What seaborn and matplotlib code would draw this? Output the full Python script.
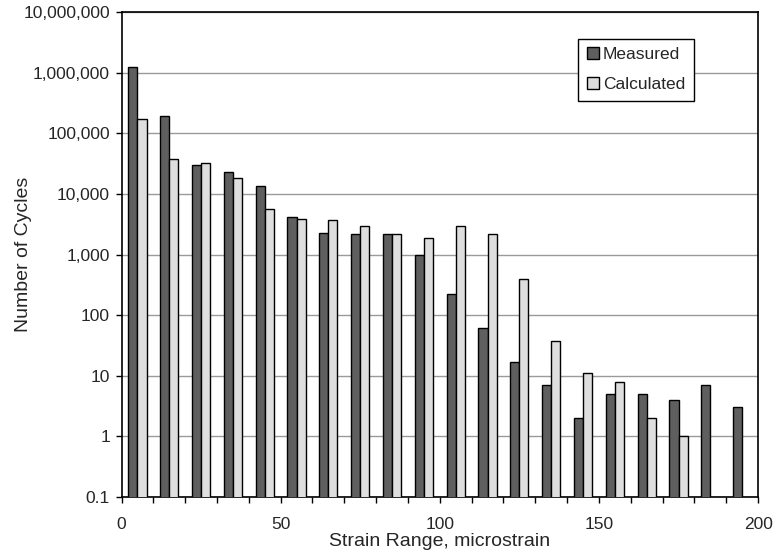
import numpy as np
import pandas as pd
import matplotlib
matplotlib.use("Agg")
import matplotlib.pyplot as plt
from matplotlib.ticker import FixedLocator, FixedFormatter, NullLocator
import seaborn as sns

# Strain-range bins (centre of each 10-microstrain bin)
bin_centers = [5, 15, 25, 35, 45, 55, 65, 75, 85, 95,
               105, 115, 125, 135, 145, 155, 165, 175, 185, 195]

measured = [1220000, 190000, 30000, 22700, 13400, 4200, 2270, 2200, 2200, 980,
            225, 62, 17, 7, 2, 5, 5, 4, 7, 3]
calculated = [170000, 37800, 32000, 18600, 5600, 3800, 3700, 2900, 2200, 1900,
              2900, 2200, 400, 38, 11, 8, 2, 1, np.nan, np.nan]

series_names = ["Measured", "Calculated"]
series_colors = ["#5f5f5f", "#dedede"]

y_tick_values = [0.1, 1, 10, 100, 1000, 10000, 100000, 1000000, 10000000]
y_tick_labels = ["0.1", "1", "10", "100", "1,000", "10,000", "100,000",
                 "1,000,000", "10,000,000"]
x_tick_values = [0, 50, 100, 150, 200]

df = pd.DataFrame({
    "strain": bin_centers * 2,
    "cycles": measured + calculated,
    "series": [series_names[0]] * len(bin_centers) + [series_names[1]] * len(bin_centers),
})

sns.set_style("white")
plt.rcParams["font.family"] = ["Liberation Sans", "DejaVu Sans"]

fig = plt.figure(figsize=(7.73, 5.56), dpi=100)
ax = fig.add_axes([0.1572, 0.106, 0.8235, 0.8725])
ax.set_yscale("log")

sns.barplot(
    data=df, x="strain", y="cycles", hue="series",
    hue_order=series_names, palette=series_colors,
    native_scale=True, dodge=True, width=0.5714, gap=0,
    errorbar=None, edgecolor="black", linewidth=1.0,
    saturation=1, ax=ax, zorder=3,
)

ax.set_xlim(0, 200)
ax.set_ylim(0.1, 1e7)

# y axis: decade ticks with comma-formatted labels
ax.yaxis.set_major_locator(FixedLocator(y_tick_values))
ax.yaxis.set_major_formatter(FixedFormatter(y_tick_labels))
ax.yaxis.set_minor_locator(NullLocator())

# x axis: tick at every bin edge, labels every 50
edges = list(range(0, 201, 10))
ax.xaxis.set_major_locator(FixedLocator(edges))
ax.xaxis.set_major_formatter(FixedFormatter(
    [str(e) if e in x_tick_values else "" for e in edges]))
ax.xaxis.set_minor_locator(NullLocator())

ax.tick_params(axis="both", which="major", direction="out", length=4.3,
               width=1, color="black", labelsize=12.5,
               bottom=True, left=True)
ax.tick_params(axis="x", pad=10)
ax.tick_params(axis="y", pad=4)

ax.grid(False)
ax.yaxis.grid(True, color="#9a9a9a", linewidth=1.0, zorder=0)
ax.set_axisbelow(True)

for side in ["left", "right", "top", "bottom"]:
    ax.spines[side].set_visible(True)
    ax.spines[side].set_color("black")
    ax.spines[side].set_linewidth(1.2)

ax.set_xlabel("Strain Range, microstrain", fontsize=14, labelpad=1)
ax.set_ylabel("Number of Cycles", fontsize=14)
ax.yaxis.set_label_coords(-0.141, 0.5)

handles, labels = ax.get_legend_handles_labels()
leg = ax.legend(
    handles, labels, loc="upper left", bbox_to_anchor=(0.717, 0.945),
    fontsize=12.5, frameon=True, fancybox=False, shadow=False,
    edgecolor="black", framealpha=1, borderpad=0.5, labelspacing=0.85,
    handlelength=0.7, handleheight=0.7, handletextpad=0.25,
    borderaxespad=0,
)
leg.get_frame().set_linewidth(1.0)

fig.savefig("out.png", dpi=100)
